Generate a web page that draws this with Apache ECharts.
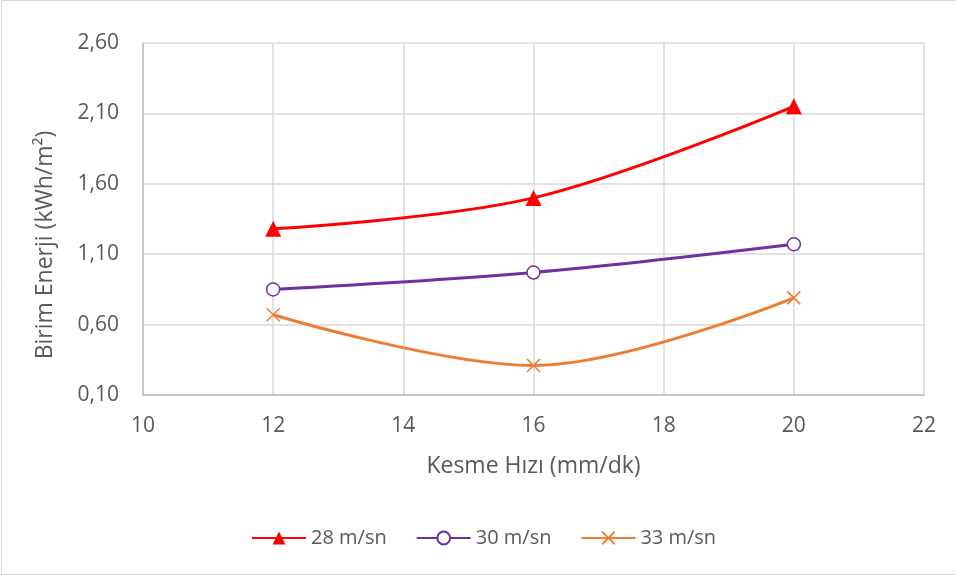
<!DOCTYPE html>
<html>
<head>
<meta charset="utf-8">
<script src="https://cdn.jsdelivr.net/npm/echarts@6/dist/echarts.min.js"></script>
<style>
html,body{margin:0;padding:0;background:#fff;}
#chart{width:956px;height:579px;}
</style>
</head>
<body>
<div id="chart"></div>
<script>
const xValues = [12, 16, 20];
const series28 = [1.28, 1.50, 2.15];
const series30 = [0.85, 0.97, 1.17];
const series33 = [0.67, 0.31, 0.79];
const seriesNames = ['28 m/sn', '30 m/sn', '33 m/sn'];
const xTitle = 'Kesme Hızı (mm/dk)';
const yTitle = 'Birim Enerji (kWh/m²)';

const FONT = '"Open Sans", sans-serif';
const pairs = arr => xValues.map((x, i) => [x, arr[i]]);

const chart = echarts.init(document.getElementById('chart'));
chart.setOption({
  animation: false,
  textStyle: { fontFamily: FONT },
  graphic: [{
    type: 'rect',
    shape: { x: 1.5, y: 0.5, width: 970, height: 574 },
    style: { fill: 'none', stroke: '#d9d9d9', lineWidth: 1 },
    silent: true
  }],
  grid: { left: 143, right: 32, top: 43, bottom: 184, containLabel: false },
  xAxis: {
    type: 'value', min: 10, max: 22, interval: 2,
    name: xTitle, nameLocation: 'middle', nameGap: 60,
    nameTextStyle: { color: '#595959', fontSize: 23, fontFamily: FONT },
    axisLine: { show: true, lineStyle: { color: '#bfbfbf', width: 1.5 } },
    axisTick: { show: false },
    axisLabel: { color: '#595959', fontSize: 21, margin: 21, fontFamily: FONT },
    splitLine: { show: true, lineStyle: { color: '#d9d9d9', width: 1.5 } }
  },
  yAxis: {
    type: 'value', min: 0.1, max: 2.6, interval: 0.5,
    name: yTitle, nameLocation: 'middle', nameGap: 86, nameRotate: 90,
    nameTextStyle: { color: '#595959', fontSize: 23, fontFamily: FONT, padding: [0, 52, 0, 0] },
    axisLine: { show: true, lineStyle: { color: '#bfbfbf', width: 1.5 } },
    axisTick: { show: false },
    axisLabel: { color: '#595959', fontSize: 21, margin: 24, fontFamily: FONT,
      formatter: v => v.toFixed(2).replace('.', ',') },
    splitLine: { show: true, lineStyle: { color: '#d9d9d9', width: 1.5 } }
  },
  legend: {
    bottom: 26, left: 246, itemGap: 29, itemWidth: 54, itemHeight: 16,
    textStyle: { color: '#595959', fontSize: 20, fontFamily: FONT },
    data: seriesNames
  },
  series: [
    {
      name: seriesNames[0], type: 'line', smooth: 0.35, data: pairs(series28),
      symbol: 'triangle', symbolSize: 16,
      lineStyle: { color: '#ff0000', width: 3 },
      itemStyle: { color: '#ff0000' }
    },
    {
      name: seriesNames[1], type: 'line', smooth: 0.35, data: pairs(series30),
      symbol: 'circle', symbolSize: 13,
      lineStyle: { color: '#7030a0', width: 3 },
      itemStyle: { color: '#ffffff', borderColor: '#7030a0', borderWidth: 1.5 }
    },
    {
      name: seriesNames[2], type: 'line', smooth: 0.35, data: pairs(series33),
      symbol: 'path://M0,0 L10,10 M10,0 L0,10', symbolSize: 13,
      lineStyle: { color: '#ed7d31', width: 3 },
      itemStyle: { color: '#ed7d31', borderColor: '#ed7d31', borderWidth: 1.5 }
    }
  ]
});
</script>
</body>
</html>
